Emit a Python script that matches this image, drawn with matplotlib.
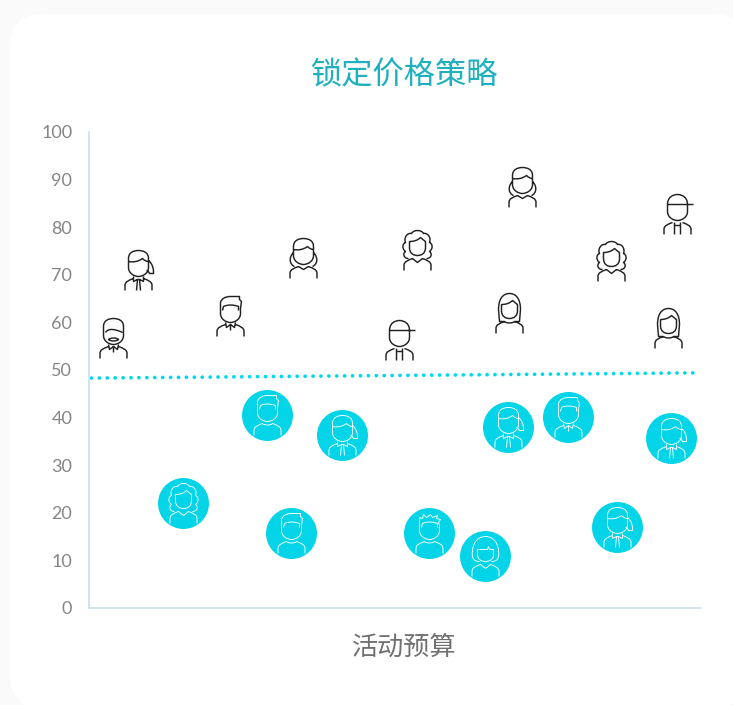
import re
import matplotlib
matplotlib.use("Agg")
import matplotlib.pyplot as plt
from matplotlib.patches import FancyBboxPatch
from matplotlib.path import Path
from matplotlib.transforms import IdentityTransform

plt.rcParams['font.family'] = ['Noto Sans CJK SC', 'DejaVu Sans']

# values (x is budget on a 0-100 scale)
above_x = [3.9, 8.0, 23.1, 35.0, 53.7, 50.8, 68.8, 70.9, 85.4, 96.2, 94.7]
above_y = [56.7, 71.0, 61.3, 73.5, 75.2, 56.3, 62.0, 88.4, 72.9, 82.8, 58.8]
above_icon = ['mustache', 'ponytail', 'short', 'wavy', 'curly', 'cap', 'long', 'wavy', 'curly', 'cap', 'long']

below_x = [15.4, 29.1, 41.4, 33.1, 55.6, 64.8, 68.6, 78.4, 86.4, 95.2]
below_y = [22.0, 40.5, 36.3, 15.8, 15.8, 11.0, 38.0, 40.1, 17.1, 35.7]
below_icon = ['curly', 'tee', 'ponytail', 'tee', 'spiky', 'bob', 'ponytail', 'short', 'ponytail', 'ponytail']

line_x = [0.4, 99.6]
line_y = [48.3, 49.4]
y_ticks = [0, 10, 20, 30, 40, 50, 60, 70, 80, 90, 100]

title = '锁定价格策略'
x_label = '活动预算'


def sketch(text):
    # small svg style path reader, icons are drawn in pixels around (0, 0)
    verts = [(-25.5, -25.5), (25.5, 25.5)]
    codes = [Path.MOVETO, Path.MOVETO]
    for cmd, args in re.findall(r'([MLC])([^MLC]*)', text):
        nums = [float(v) for v in args.split()]
        pts = list(zip(nums[0::2], nums[1::2]))
        code = {'M': Path.MOVETO, 'L': Path.LINETO, 'C': Path.CURVE4}[cmd]
        verts += pts
        codes += [code] * len(pts)
    return Path(verts, codes)


FACE = 'M -10 8 L -10 3 C -10 -3 -4 -6 0 -6 C 4 -6 10 -3 10 3 L 10 8 '
ROUND = 'M -10 8 L -10 12 C -10 18 -5 20 0 20 C 5 20 10 18 10 12 L 10 8 '
FRINGE = 'M -10 9 C -5 8 0 9 4 12 C 6 10 8 9 10 9 '
SHIRT = ('M -13.5 -20 L -13.5 -15 C -13.5 -11 -10 -10 -5 -8 '
         'M 13.5 -20 L 13.5 -15 C 13.5 -11 10 -10 5 -8 ')
BOW = ('M -5 -6 L -5 -11 L -1 -9 L 1 -9 L 5 -11 L 5 -6 '
       'M -2 -20 L -1 -9 M 2 -20 L 1 -9 ')
COLLAR = 'M -5 -6 L -4 -11 L 0 -8 L 4 -11 L 5 -6 M 0 -8 L 0 -14 '
NECK = 'M -5 -8 C -3 -10 3 -10 5 -8 '
SHORT_HAIR = ('M -10 8 L -10 14 C -9 18 -5 20 0 20 L 9 20 L 9 17 L 11 15 L 10 8 '
              'M -8 6 L -7 10 C -3 12 3 12 8 10 L 8 6 ')

ICONS = {
    'ponytail': sketch(FACE + ROUND + FRINGE + SHIRT + BOW +
                       'M 10 10 C 13 8 15 3 15 -1 L 15 -3 L 11 -3 C 10 -1 9 0 8 0 '),
    'mustache': sketch(FACE + ROUND + 'M -8 6 C -5 11 3 9 9 6 ' + SHIRT + COLLAR +
                       'M -5 -1 C -3 1 3 1 5 -1 C 3 -3 -3 -3 -5 -1 '),
    'short': sketch(FACE + SHORT_HAIR + SHIRT + COLLAR),
    'tee': sketch(FACE + SHORT_HAIR + SHIRT + NECK),
    'spiky': sketch(FACE + 'M -10 8 L -10 16 L -7 15 L -6 19 L -3 16 L 1 19 L 3 16 L 8 18 '
                    'L 7 15 L 11 14 L 9 11 L 10 8 M -8 6 L -7 10 C -3 12 3 12 8 10 L 8 6 ' + SHIRT + NECK),
    'cap': sketch(FACE + 'M -10 10 C -10 17 -5 20 0 20 C 5 20 10 17 10 10 M -10 10 L 16 10 '
                  'M -10 10 L -10 8 M 10 10 L 10 8 ' + SHIRT +
                  'M -3 -8 L -3 -20 M 3 -8 L 3 -20 M -3 -11 L 3 -11 '),
    'long': sketch('M -8 9 L -8 3 C -8 -3 -4 -5 0 -5 C 4 -5 8 -3 8 3 L 8 9 ' + SHIRT + NECK +
                   'M -8 9 C -4 9 0 10 3 13 C 5 11 7 10 8 9 '
                   'M -5 -8 L -10 -8 L -11 4 C -11 14 -7 20 0 20 C 7 20 11 14 11 4 L 10 -8 L 5 -8 '),
    'wavy': sketch(FACE + ROUND + FRINGE + SHIRT + 'M -5 -8 L 0 -11 L 5 -8 '
                   'M -10 6 C -15 1 -14 -6 -9 -8 M 10 6 C 15 1 14 -6 9 -8 '),
    'curly': sketch('M -8 9 L -8 3 C -8 -3 -4 -5 0 -5 C 4 -5 8 -3 8 3 L 8 9 '
                    'M -8 9 C -4 9 0 10 3 13 C 5 11 7 10 8 9 ' + SHIRT + 'M -5 -8 L 0 -12 L 5 -8 '
                    'M -9 -8 C -14 -8 -15 -3 -12 -1 C -16 2 -15 7 -12 8 C -14 13 -10 18 -6 17 '
                    'C -4 21 4 21 6 17 C 10 18 14 13 12 8 C 15 7 16 2 12 -1 C 15 -3 14 -8 9 -8 '),
    'bob': sketch('M -8 7 L -8 2 C -8 -3 -4 -5 0 -5 C 4 -5 8 -3 8 2 L 8 7 '
                  'M -8 7 L 2 7 L 3 10 L 4 7 L 8 7 ' + SHIRT + 'M -5 -8 L 0 -12 L 5 -8 '
                  'M -6 -5 C -13 -5 -14 0 -13 6 C -12 16 -6 20 0 20 '
                  'C 6 20 12 16 13 6 C 14 0 13 -5 6 -5 '),
}

fig = plt.figure(figsize=(7.33, 7.05), dpi=100, facecolor='#fafafa')

# white card with round corners, it runs off the right edge
card = FancyBboxPatch((10, -3), 735, 694, boxstyle='round,pad=0,rounding_size=33',
                      transform=IdentityTransform(), facecolor='white', edgecolor='none', zorder=-1)
fig.add_artist(card)

ax = fig.add_axes([89 / 733, 97 / 705, 611 / 733, 476 / 705], facecolor='none')
ax.set_xlim(0, 100)
ax.set_ylim(0, 100)

ax.plot(line_x, line_y, color='#00d8ea', lw=2.7, linestyle=(0, (0.01, 2.1)),
        dash_capstyle='round', zorder=2)

ax.plot(below_x, below_y, 'o', ms=36.7, mfc='#03d4e8', mec='none', zorder=3, clip_on=False)
for x, y, name in zip(below_x, below_y, below_icon):
    ax.plot([x], [y], marker=ICONS[name], ms=36.7, mfc='none', mec='white', mew=0.65,
            ls='none', zorder=4, clip_on=False)
for x, y, name in zip(above_x, above_y, above_icon):
    ax.plot([x], [y], marker=ICONS[name], ms=36.7, mfc='none', mec='#222222', mew=1.05,
            ls='none', zorder=4, clip_on=False)

for side in ['top', 'right']:
    ax.spines[side].set_visible(False)
for side in ['left', 'bottom']:
    ax.spines[side].set_color('#c9dee9')
    ax.spines[side].set_linewidth(1.2)

ax.set_xticks([])
ax.set_yticks(y_ticks)
ax.tick_params(axis='y', length=0, pad=12, labelsize=13, labelcolor='#858585')
for lab in ax.get_yticklabels():
    lab.set_family(['Lato', 'DejaVu Sans'])

fig.text(404 / 733, 1 - 75 / 705, title, color='#1fb0c0', fontsize=22.5, ha='center', va='center',
         fontweight='light')
fig.text(404 / 733, 1 - 647 / 705, x_label, color='#707070', fontsize=18.8, ha='center', va='center',
         fontweight='light')

fig.savefig('out.png', dpi=100, facecolor=fig.get_facecolor())
